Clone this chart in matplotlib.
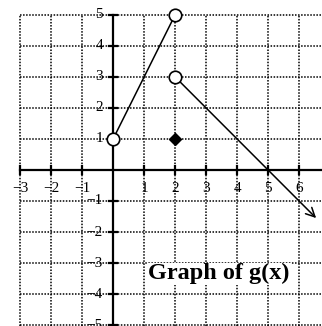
import numpy as np
import matplotlib.pyplot as plt

# grid / ticks
x_ticks = [-3, -2, -1, 1, 2, 3, 4, 5, 6]
y_ticks = [-5, -4, -3, -2, -1, 1, 2, 3, 4, 5]
grid_x = [-3, -2, -1, 0, 1, 2, 3, 4, 5, 6]
grid_y = [-5, -4, -3, -2, -1, 0, 1, 2, 3, 4, 5]

# pieces of g(x)
seg1_x = [0, 2]
seg1_y = [1, 5]
seg2_x = [2, 6.55]
seg2_y = [3, -1.55]
open_x = [0, 2, 2]
open_y = [1, 5, 3]
dot_x = [2]
dot_y = [1]

xmin, xmax = -3.65, 6.74
ymin, ymax = -5.03, 5.48

fig = plt.figure(figsize=(3.22, 3.26), dpi=100)
ax = fig.add_axes([0, 0, 1, 1])
ax.set_xlim(xmin, xmax)
ax.set_ylim(ymin, ymax)
ax.axis('off')

serif = ['Liberation Serif', 'DejaVu Serif']

# dotted grid
ax.vlines(grid_x, ymin, 5, colors='black', linestyles=(0, (1, 1)), lw=1.1, zorder=1)
ax.hlines(grid_y, -3, xmax, colors='black', linestyles=(0, (1, 1)), lw=1.1, zorder=1)

# axes
ax.plot([-3, xmax], [0, 0], color='black', lw=1.6, zorder=2)
ax.plot([0, 0], [ymin, 5], color='black', lw=1.6, zorder=2)
tl = 0.13
for t in x_ticks:
    ax.plot([t, t], [-tl, tl], color='black', lw=1.6, zorder=2)
for t in y_ticks:
    ax.plot([-tl, tl], [t, t], color='black', lw=1.6, zorder=2)

# tick labels
for t in x_ticks:
    lab = str(t).replace('-', '\u2212')
    ax.text(t, -0.6, lab, ha='center', va='center', fontsize=11,
            family=serif, zorder=3)
for t in y_ticks:
    lab = str(t).replace('-', '\u2212')
    ax.text(-0.33, t, lab, ha='right', va='center', fontsize=11,
            family=serif, zorder=3)

# graph
ax.plot(seg1_x, seg1_y, color='black', lw=1.1, zorder=4)
ax.annotate('', xy=(seg2_x[1], seg2_y[1]), xytext=(seg2_x[0], seg2_y[0]),
            arrowprops=dict(arrowstyle='->', color='black', lw=1.1,
                            mutation_scale=16, shrinkA=0, shrinkB=0),
            zorder=4)
ax.plot(open_x, open_y, 'o', ms=9, mfc='white', mec='black', mew=1.2, zorder=5)
ax.plot(dot_x, dot_y, 'D', ms=6, color='black', zorder=5)

ax.text(3.42, -3.35, 'Graph of g(x)', ha='center', va='center', fontsize=17.5,
        fontweight='bold', family=serif, zorder=6,
        bbox=dict(facecolor='white', edgecolor='none', pad=0.5))

fig.savefig('out.png', dpi=100)
